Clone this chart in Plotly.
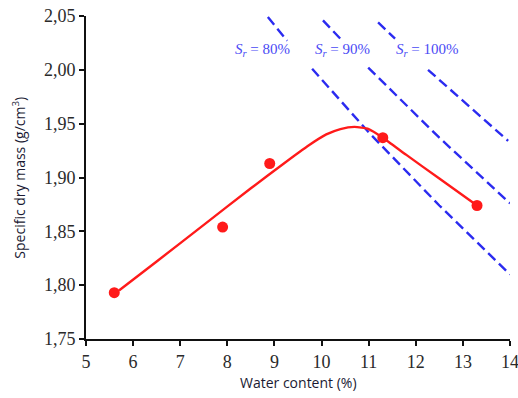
import plotly.graph_objects as go

# Measured points
water = [5.6, 7.9, 8.9, 11.3, 13.3]
dry_mass = [1.793, 1.854, 1.913, 1.937, 1.874]

# Fitted compaction curve
curve_x = [5.7, 6.5, 7.5, 8.5, 9.2, 9.7, 10.1, 10.4, 10.7, 11.0, 11.3, 11.8, 12.5, 13.3]
curve_y = [1.795, 1.822, 1.856, 1.890, 1.913, 1.929, 1.940, 1.945, 1.947, 1.945, 1.937, 1.921, 1.899, 1.874]

# Saturation lines (gap where label sits)
sr80_x = [8.86, 9.27, None, 9.80, 11.0, 12.5, 14.0]
sr80_y = [2.049, 2.027, None, 2.001, 1.942, 1.874, 1.810]
sr90_x = [10.03, 10.44, None, 10.99, 12.5, 14.0]
sr90_y = [2.046, 2.027, None, 2.002, 1.937, 1.876]
sr100_x = [11.2, 11.56, None, 12.26, 13.0, 13.96]
sr100_y = [2.044, 2.029, None, 2.000, 1.971, 1.934]

label_x = [8.74, 10.44, 12.24]
label_y = [2.018, 2.018, 2.018]
label_text = ["80%", "90%", "100%"]

x_ticks = [5, 6, 7, 8, 9, 10, 11, 12, 13, 14]
y_ticks = [1.75, 1.80, 1.85, 1.90, 1.95, 2.00, 2.05]

fig = go.Figure()

blue = "#2b2bf0"
for xs, ys in [(sr80_x, sr80_y), (sr90_x, sr90_y), (sr100_x, sr100_y)]:
    fig.add_trace(go.Scatter(x=xs, y=ys, mode="lines",
                             line=dict(color=blue, width=2.4, dash="10px,5px"),
                             hoverinfo="skip", showlegend=False))

fig.add_trace(go.Scatter(x=curve_x, y=curve_y, mode="lines",
                         line=dict(color="#ff1a1a", width=2.4, shape="spline", smoothing=0.5),
                         showlegend=False))
fig.add_trace(go.Scatter(x=water, y=dry_mass, mode="markers",
                         marker=dict(color="#ff1a1a", size=11),
                         showlegend=False))

for lx, ly, lt in zip(label_x, label_y, label_text):
    fig.add_annotation(x=lx, y=ly, text="<i>S</i><sub><i>r</i></sub> = " + lt,
                       showarrow=False,
                       font=dict(family="Liberation Serif", size=15, color="#4a4af5"))

title_font = dict(family="Open Sans", size=14, color="#1a1a33")
fig.add_annotation(xref="paper", yref="paper", x=0.5, y=-0.136,
                   text="Water content (%)", showarrow=False,
                   xanchor="center", yanchor="middle", font=title_font)
fig.add_annotation(xref="paper", yref="paper", x=-0.160, y=0.5,
                   text="Specific dry mass (g/cm<sup>3</sup>)", showarrow=False,
                   textangle=-90, xanchor="center", yanchor="middle", font=title_font)

fig.update_layout(
    width=518, height=398,
    margin=dict(l=86, r=8, t=16, b=59),
    plot_bgcolor="white", paper_bgcolor="white",
    separators=",.",
    showlegend=False,
)
fig.update_xaxes(
    range=[5, 14], tickvals=x_ticks, showgrid=False, zeroline=False,
    showline=True, linecolor="#111", linewidth=2,
    ticks="outside", ticklen=5, tickwidth=2, tickcolor="#111",
    ticklabeloverflow="allow", automargin=False,
    tickfont=dict(family="Liberation Serif", size=18, color="#2a2a2a"),
)
fig.update_yaxes(
    range=[1.75, 2.05], tickvals=y_ticks, tickformat=".2f", showgrid=False, zeroline=False,
    showline=True, linecolor="#111", linewidth=2,
    ticks="outside", ticklen=5, tickwidth=2, tickcolor="#111",
    automargin=False,
    tickfont=dict(family="Liberation Serif", size=18, color="#2a2a2a"),
)

fig.write_html("out.html", config={"displayModeBar": False},
               post_script="document.body.style.margin='0';document.body.style.overflow='hidden';")
